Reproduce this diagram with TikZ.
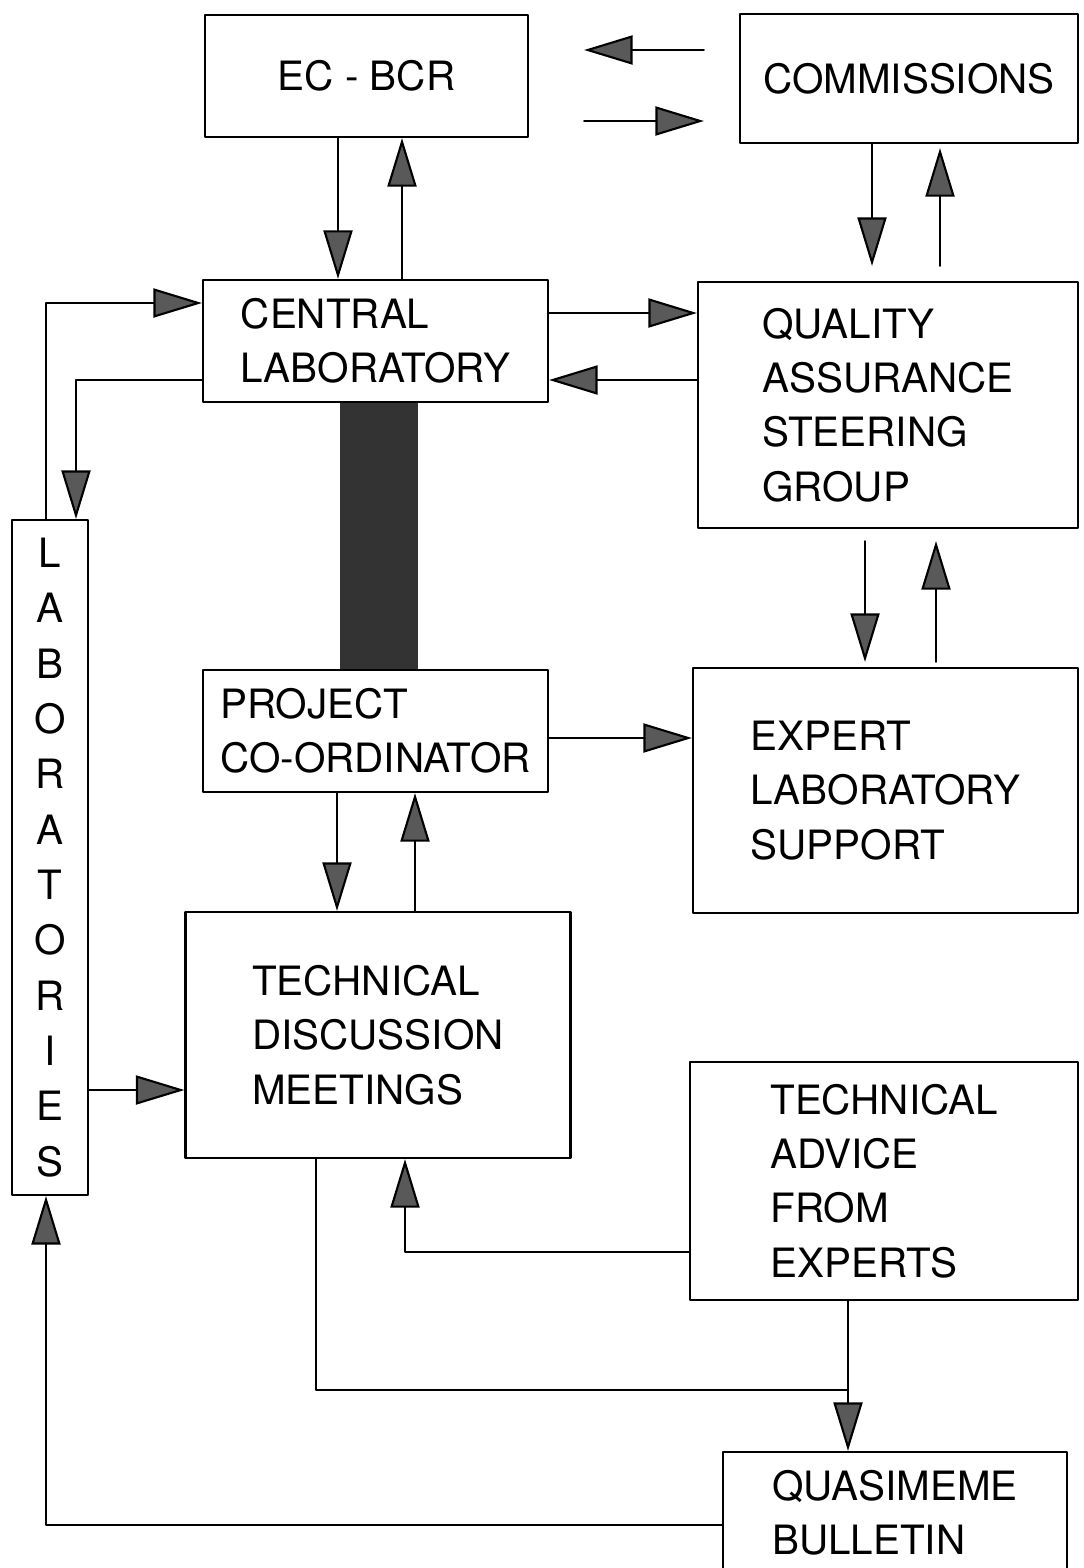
\documentclass[tikz,border=0pt]{standalone}
\usepackage{fontspec}
\setmainfont{TeX Gyre Heros}
\usetikzlibrary{arrows.meta,positioning,calc}
\tikzset{
  box/.style={draw,line width=1.3pt,align=left,inner sep=0pt,font={\fontsize{23}{31}\selectfont}},
  arr/.style={line width=1.2pt,-{Triangle[length=0.97cm,width=0.58cm,fill=black!65]}},
  link/.style={line width=1.2pt},
}

\begin{document}
\begin{tikzpicture}[x=0.02cm,y=-0.02cm,line join=round,line cap=round]
\useasboundingbox (0,0) rectangle (1083,1568);
\node[box,minimum width=6.46cm,minimum height=2.44cm] (ecbcr) at (366.5,76) {EC - BCR};
\node[box,minimum width=6.76cm,minimum height=2.58cm] (comm) at (909,78.5) {COMMISSIONS};
\node[box,minimum width=6.9cm,minimum height=2.44cm] (central) at (375.5,341) {CENTRAL\\LABORATORY};
\node[box,minimum width=7.6cm,minimum height=4.92cm] (qasg) at (888,405) {QUALITY\\ASSURANCE\\STEERING\\GROUP};
\node[box,minimum width=6.9cm,minimum height=2.44cm] (proj) at (375.5,731) {PROJECT\\CO-ORDINATOR};
\node[box,minimum width=7.7cm,minimum height=4.9cm] (expert) at (885.5,790.5) {EXPERT\\LABORATORY\\SUPPORT};
\node[box,minimum width=7.7cm,minimum height=4.92cm] (tdm) at (378,1035) {TECHNICAL\\DISCUSSION\\MEETINGS};
\node[box,minimum width=7.76cm,minimum height=4.76cm] (tafe) at (884,1181) {TECHNICAL\\ADVICE\\FROM\\EXPERTS};
\node[box,minimum width=1.52cm,minimum height=13.5cm,align=center,font={\fontsize{23}{31.5}\selectfont}] (labs) at (50,857.5) {L\\A\\B\\O\\R\\A\\T\\O\\R\\I\\E\\S};
\node[box,minimum width=6.88cm,minimum height=2.44cm] (quasi) at (895,1513) {QUASIMEME\\BULLETIN};
\coordinate (merge) at (848,1390);
\fill[black!80] (central.south -| 340,0) rectangle (proj.north -| 418,0);
\draw[arr,shorten <=0.7cm,shorten >=1.1cm] (comm.west |- 0,50) -- (ecbcr.east |- 0,50);
\draw[arr,shorten <=1.1cm,shorten >=0.7cm] (ecbcr.east |- 0,121) -- (comm.west |- 0,121);
\draw[arr] (ecbcr.south -| 338,0) -- (central.north -| 338,0);
\draw[arr] (central.north -| 402,0) -- (ecbcr.south -| 402,0);
\draw[arr,shorten >=0.3cm] (comm.south -| 872,0) -- (qasg.north -| 872,0);
\draw[arr,shorten <=0.3cm,shorten >=0.08cm] (qasg.north -| 940,0) -- (comm.south -| 940,0);
\draw[arr] (central.east |- 0,313) -- (qasg.west |- 0,313);
\draw[arr] (qasg.west |- 0,380) -- (central.east |- 0,380);
\draw[arr,shorten <=0.24cm,shorten >=0.1cm] (qasg.south -| 865,0) -- (expert.north -| 865,0);
\draw[arr,shorten <=0.1cm,shorten >=0.24cm] (expert.north -| 936,0) -- (qasg.south -| 936,0);
\draw[arr] (proj.east |- 0,738) -- (expert.west |- 0,738);
\draw[arr] (proj.south -| 337,0) -- (tdm.north -| 337,0);
\draw[arr] (tdm.north -| 415,0) -- (proj.south -| 415,0);
\draw[arr] (labs.north -| 46,0) |- (central.west |- 0,303);
\draw[arr] (central.west |- 0,380) -| (labs.north -| 76,0);
\draw[arr] (labs.east |- 0,1090) -- (tdm.west |- 0,1090);
\draw[arr] (tafe.west |- 0,1252) -| (tdm.south -| 405,0);
\draw[link] (tdm.south -| 316,0) |- (merge);
\draw[arr] (tafe.south -| 848,0) -- (quasi.north -| 848,0);
\draw[arr] (quasi.west |- 0,1525) -| (labs.south -| 46,0);
\end{tikzpicture}
\end{document}
